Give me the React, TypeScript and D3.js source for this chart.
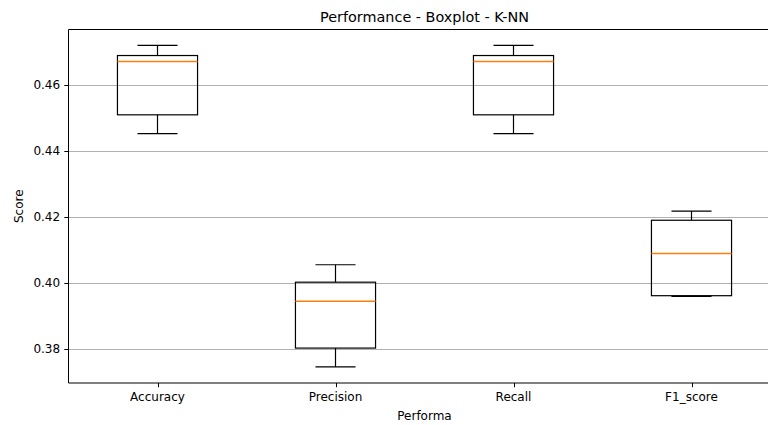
import React from "react";
import * as d3 from "d3";

const categories = ["Accuracy", "Precision", "Recall", "F1_score"];
const whiskerLow = [0.4453, 0.3745, 0.4453, 0.3959];
const q1 = [0.451, 0.3802, 0.451, 0.3961];
const median = [0.4672, 0.3944, 0.4672, 0.4089];
const q3 = [0.469, 0.4002, 0.469, 0.419];
const whiskerHigh = [0.4721, 0.4055, 0.4721, 0.4218];
const yTicks = [0.38, 0.4, 0.42, 0.44, 0.46];

const W = 768;
const H = 425;
const left = 68.5;
const right = 780.5;
const top = 29.5;
const bottom = 383;
const FONT = "DejaVu Sans, sans-serif";

export default function App() {
  if (typeof document !== "undefined") {
    document.body.style.margin = "0";
  }
  const positions = categories.map((_, i) => i + 1);
  const x = d3.scaleLinear().domain([0.5, 4.5]).range([left, right]);
  const y = d3.scaleLinear().domain([0.3696, 0.4769]).range([bottom, top]);
  const boxW = x(1.45) - x(1);
  const capW = boxW / 2;
  const r = (v: number) => Math.round(v) + 0.5;

  return (
    <svg width={W} height={H} style={{ display: "block", overflow: "hidden", background: "#fff" }}>
      <rect x={0} y={0} width={W} height={H} fill="#fff" />
      {/* grid */}
      {yTicks.map((t) => (
        <line key={"g" + t} x1={left} x2={right} y1={r(y(t))} y2={r(y(t))} stroke="#b0b0b0" strokeWidth={1} />
      ))}
      {/* boxes */}
      {categories.map((c, i) => {
        const cx = x(positions[i]);
        const bx0 = cx - boxW / 2;
        const bx1 = cx + boxW / 2;
        return (
          <g key={c} fill="none" stroke="#000" strokeWidth={1.2}>
            <line x1={cx} x2={cx} y1={y(q1[i])} y2={y(whiskerLow[i])} />
            <line x1={cx} x2={cx} y1={y(q3[i])} y2={y(whiskerHigh[i])} />
            <line x1={cx - capW / 2} x2={cx + capW / 2} y1={y(whiskerLow[i])} y2={y(whiskerLow[i])} />
            <line x1={cx - capW / 2} x2={cx + capW / 2} y1={y(whiskerHigh[i])} y2={y(whiskerHigh[i])} />
            <rect x={bx0} y={y(q3[i])} width={bx1 - bx0} height={y(q1[i]) - y(q3[i])} />
            <line x1={bx0} x2={bx1} y1={y(median[i])} y2={y(median[i])} stroke="#ff7f0e" strokeWidth={1.5} />
          </g>
        );
      })}
      {/* spines */}
      <g stroke="#000" strokeWidth={1} fill="none">
        <line x1={left} x2={left} y1={top} y2={bottom} />
        <line x1={left} x2={right} y1={top} y2={top} />
        <line x1={left} x2={right} y1={bottom} y2={bottom} />
        <line x1={right} x2={right} y1={top} y2={bottom} />
      </g>
      {/* y ticks */}
      {yTicks.map((t) => (
        <g key={"yt" + t}>
          <line x1={left - 4.2} x2={left} y1={r(y(t))} y2={r(y(t))} stroke="#000" strokeWidth={1} />
          <text x={left - 8.4} y={y(t)} dy="0.36em" textAnchor="end" fontFamily={FONT} fontSize={12} fill="#000">
            {d3.format(".2f")(t)}
          </text>
        </g>
      ))}
      {/* x ticks */}
      {categories.map((c, i) => (
        <g key={"xt" + c}>
          <line x1={r(x(positions[i]))} x2={r(x(positions[i]))} y1={bottom} y2={bottom + 4.2} stroke="#000" strokeWidth={1} />
          <text x={x(positions[i])} y={401} textAnchor="middle" fontFamily={FONT} fontSize={12} fill="#000">
            {c}
          </text>
        </g>
      ))}
      {/* labels */}
      <text x={(left + right) / 2} y={420} textAnchor="middle" fontFamily={FONT} fontSize={12} fill="#000">
        Performa
      </text>
      <text
        transform={`translate(22.5, ${(top + bottom) / 2}) rotate(-90)`}
        textAnchor="middle"
        fontFamily={FONT}
        fontSize={12}
        fill="#000"
      >
        Score
      </text>
      <text x={(left + right) / 2} y={22} textAnchor="middle" fontFamily={FONT} fontSize={14.4} fill="#000">
        Performance - Boxplot - K-NN
      </text>
    </svg>
  );
}
